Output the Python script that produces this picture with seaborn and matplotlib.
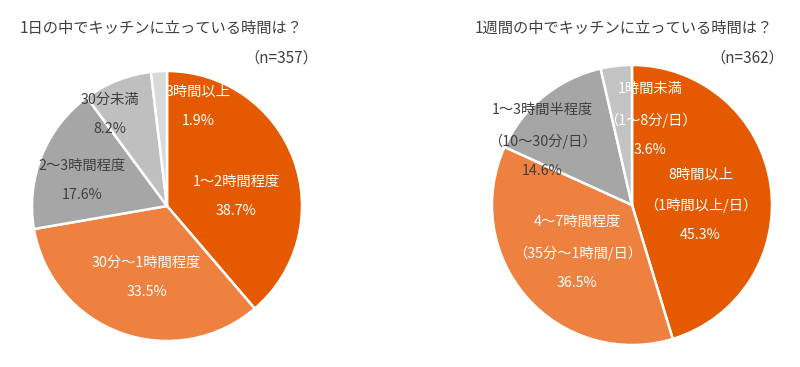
import matplotlib
matplotlib.use("Agg")
import seaborn as sns
from matplotlib import pyplot as plt

# data
day_title = "1日の中でキッチンに立っている時間は？"
day_n = "（n=357）"
day_labels = ["1～2時間程度", "30分～1時間程度", "2～3時間程度", "30分未満", "3時間以上"]
day_values = [38.7, 33.5, 17.6, 8.2, 1.9]

week_title = "1週間の中でキッチンに立っている時間は？"
week_n = "（n=362）"
week_labels = ["8時間以上\n（1時間以上/日）", "4～7時間程度\n（35分～1時間/日）",
               "1～3時間半程度\n（10～30分/日）", "1時間未満\n（1～8分/日）"]
week_values = [45.3, 36.5, 14.6, 3.6]

sns.set_theme(style="white")
plt.rcParams['font.family'] = ['Noto Sans CJK JP', 'DejaVu Sans']

day_colors = ["#E55A00", "#EE8040", "#A6A6A6", "#BFBFBF", "#D9D9D9"]
week_colors = ["#E55A00", "#EE8040", "#A6A6A6", "#C3C3C3"]
day_text = ["white", "white", "#404040", "#404040", "white"]
week_text = ["white", "white", "#404040", "white"]
# label centres in radius units
day_pos = [(0.51, 0.07), (-0.15, -0.53), (-0.63, 0.19), (-0.42, 0.68), (0.23, 0.74)]
week_pos = [(0.49, 0.0), (-0.39, -0.34), (-0.64, 0.46), (0.13, 0.61)]

W, H = 800, 367
fig = plt.figure(figsize=(8, 3.67), dpi=100)


def draw_pie(cx, cy, r, values, labels, colors, text_colors, pos):
    ax = fig.add_axes([(cx - r) / W, (H - cy - r) / H, 2 * r / W, 2 * r / H])
    ax.pie(values, colors=colors, startangle=90, counterclock=False,
           wedgeprops=dict(edgecolor="white", linewidth=1.8))
    ax.set_xlim(-1, 1)
    ax.set_ylim(-1, 1)
    ax.set_aspect("equal")
    ax.axis("off")
    for lab, v, c, (x, y) in zip(labels, values, text_colors, pos):
        ax.text(x, y, f"{lab}\n{v:.1f}%", color=c, ha="center", va="center",
                fontsize=10.3, linespacing=2.35)
    return ax


draw_pie(167, 206, 135, day_values, day_labels, day_colors, day_text, day_pos)
draw_pie(632, 205, 140, week_values, week_labels, week_colors, week_text, week_pos)

fig.text(20 / W, 1 - 28 / H, day_title, fontsize=11, color="#404040", va="center", ha="left")
fig.text(318 / W, 1 - 58 / H, day_n, fontsize=11, color="#404040", va="center", ha="right")
fig.text(475 / W, 1 - 28 / H, week_title, fontsize=11, color="#404040", va="center", ha="left")
fig.text(784 / W, 1 - 58 / H, week_n, fontsize=11, color="#404040", va="center", ha="right")

fig.savefig("out.png", dpi=100, facecolor="white")
